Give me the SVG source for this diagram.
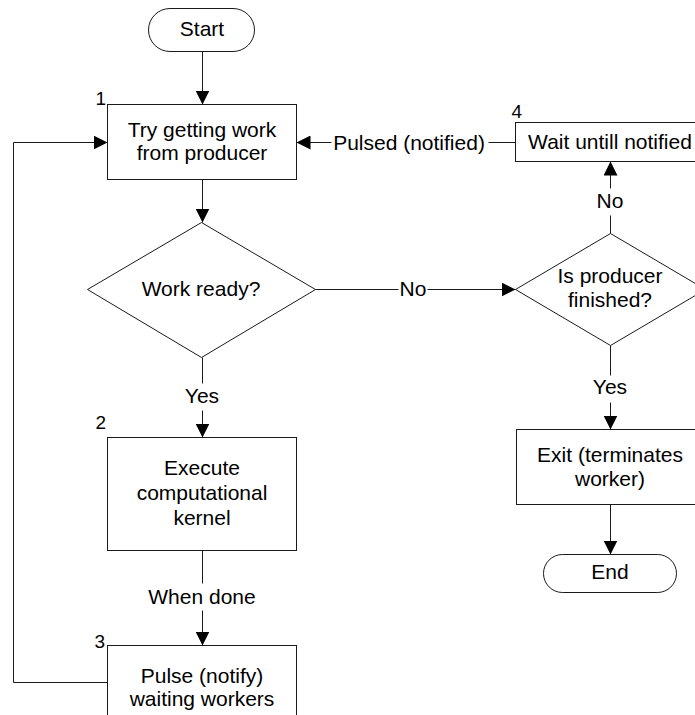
<svg xmlns="http://www.w3.org/2000/svg" width="695" height="715" viewBox="0 0 695 715">
  <style>
    .shape { fill: #ffffff; stroke: #1a1a1a; stroke-width: 1; }
    .wire { fill: none; stroke: #1a1a1a; stroke-width: 1; }
    .arrow { marker-end: url(#head); }
    text { font-family: "Liberation Sans", Arial, sans-serif; font-size: 21px; fill: #000; text-anchor: middle; }
    text.num { font-size: 19px; text-anchor: end; }
  </style>
  <defs>
    <marker id="head" markerUnits="userSpaceOnUse" markerWidth="14" markerHeight="14" refX="14" refY="7" orient="auto">
      <path d="M0,0 L14,7 L0,14 z" fill="#000"/>
    </marker>
  </defs>
  <rect width="695" height="715" fill="#ffffff"/>

  <!-- connectors -->
  <g id="connectors" transform="translate(0.5 0.5)">
    <line class="wire arrow" x1="202" y1="51" x2="202" y2="104"/>
    <line class="wire arrow" x1="202" y1="179" x2="202" y2="222"/>
    <!-- Work ready? -> Yes -> Execute -->
    <line class="wire" x1="202" y1="357" x2="202" y2="383"/>
    <line class="wire arrow" x1="202" y1="410" x2="202" y2="437"/>
    <!-- Execute -> When done -> Pulse -->
    <line class="wire" x1="202" y1="550" x2="202" y2="583"/>
    <line class="wire arrow" x1="202" y1="610" x2="202" y2="645"/>
    <!-- loop back from Pulse to Try -->
    <polyline class="wire arrow" points="107,682 13,682 13,142 107,142"/>
    <!-- Work ready? -> No -> Is producer finished? -->
    <line class="wire" x1="315" y1="289" x2="398" y2="289"/>
    <line class="wire arrow" x1="427" y1="289" x2="515" y2="289"/>
    <!-- Is producer finished? -> No -> Wait -->
    <line class="wire" x1="610" y1="233" x2="610" y2="215"/>
    <line class="wire arrow" x1="610" y1="188" x2="610" y2="161"/>
    <!-- Wait -> Pulsed (notified) -> Try -->
    <line class="wire" x1="515" y1="142" x2="488" y2="142"/>
    <line class="wire arrow" x1="331" y1="142" x2="296" y2="142"/>
    <!-- Is producer finished? -> Yes -> Exit -->
    <line class="wire" x1="610" y1="345" x2="610" y2="375"/>
    <line class="wire arrow" x1="610" y1="402" x2="610" y2="429"/>
    <!-- Exit -> End -->
    <line class="wire arrow" x1="610" y1="504" x2="610" y2="554"/>
  </g>
  <g id="connector-labels">
    <text x="202" y="403">Yes</text>
    <text x="202" y="604">When done</text>
    <text x="413" y="296">No</text>
    <text x="610" y="208">No</text>
    <text x="409" y="150">Pulsed (notified)</text>
    <text x="610" y="394">Yes</text>
  </g>

  <!-- nodes -->
  <g id="start">
    <rect class="shape" x="148.5" y="8.5" width="106" height="43" rx="21.5"/>
    <text x="202" y="36">Start</text>
  </g>
  <g id="try-work">
    <rect class="shape" x="107.5" y="104.5" width="189" height="75"/>
    <text x="202" y="137">Try getting work</text>
    <text x="202" y="160">from producer</text>
    <text class="num" x="106" y="105">1</text>
  </g>
  <g id="work-ready">
    <polygon class="shape" points="201.5,222.5 315.5,289.5 201.5,357.5 87.5,289.5"/>
    <text x="201" y="296">Work ready?</text>
  </g>
  <g id="execute">
    <rect class="shape" x="107.5" y="437.5" width="189" height="113"/>
    <text x="202" y="475">Execute</text>
    <text x="202" y="500">computational</text>
    <text x="202" y="525">kernel</text>
    <text class="num" x="106" y="429">2</text>
  </g>
  <g id="pulse">
    <rect class="shape" x="107.5" y="645.5" width="189" height="80"/>
    <text x="202" y="683">Pulse (notify)</text>
    <text x="202" y="706">waiting workers</text>
    <text class="num" x="105" y="648">3</text>
  </g>
  <g id="producer-finished">
    <polygon class="shape" points="610.5,233.5 705.5,289.5 610.5,345.5 515.5,289.5"/>
    <text x="610" y="283">Is producer</text>
    <text x="610" y="307">finished?</text>
  </g>
  <g id="wait">
    <rect class="shape" x="515.5" y="122.5" width="190" height="39"/>
    <text x="610" y="149">Wait untill notified</text>
    <text class="num" x="522" y="118">4</text>
  </g>
  <g id="exit">
    <rect class="shape" x="516.5" y="429.5" width="190" height="75"/>
    <text x="610" y="462">Exit (terminates</text>
    <text x="610" y="486">worker)</text>
  </g>
  <g id="end">
    <rect class="shape" x="543.5" y="554.5" width="133" height="38" rx="19"/>
    <text x="610" y="579">End</text>
  </g>
</svg>
